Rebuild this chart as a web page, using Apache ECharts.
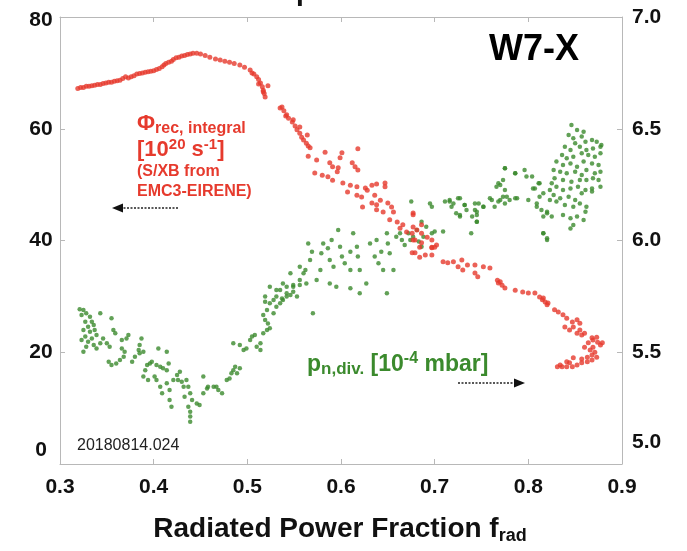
<!DOCTYPE html>
<html>
<head>
<meta charset="utf-8">
<script src="https://cdn.jsdelivr.net/npm/echarts@6/dist/echarts.min.js"></script>
<style>
html, body { margin: 0; padding: 0; background: #fff; }
#chart { width: 687px; height: 551px; }
</style>
</head>
<body>
<div id="chart"></div>
<script>
// Integral recycling flux (left axis, 10^20 s^-1) vs. radiated power fraction
const recycling = [
  [0.319,67.2],[0.322,67.4],[0.325,67.4],[0.328,67.6],[0.331,67.6],[0.334,67.7],[0.337,67.8],[0.340,67.9],
  [0.343,67.9],[0.346,68.1],[0.349,68.2],[0.352,68.3],[0.355,68.3],[0.358,68.5],[0.361,68.6],[0.364,68.7],
  [0.367,69.0],[0.370,69.3],[0.373,69.1],[0.376,69.3],[0.379,69.5],[0.382,69.8],[0.385,69.9],[0.388,70.0],
  [0.391,70.1],[0.394,70.2],[0.397,70.3],[0.400,70.4],[0.403,70.6],[0.406,70.8],[0.409,71.1],[0.411,71.4],
  [0.413,71.7],[0.416,71.9],[0.419,72.1],[0.421,72.4],[0.424,72.7],[0.427,72.8],[0.430,73.0],[0.433,73.1],
  [0.436,73.3],[0.439,73.4],[0.442,73.5],[0.446,73.5],[0.450,73.4],[0.455,73.1],[0.460,72.8],[0.466,72.5],
  [0.471,72.3],[0.476,72.1],[0.481,71.9],[0.486,71.7],[0.492,71.4],[0.497,71.0],[0.503,70.5],[0.505,70.0],
  [0.507,69.8],[0.510,69.3],[0.512,68.8],[0.512,68.0],[0.514,68.2],[0.516,67.5],[0.517,66.9],[0.522,67.7],
  [0.517,66.6],[0.518,66.3],[0.519,65.7],
  [0.535,63.7],[0.537,63.9],[0.539,63.2],[0.541,62.3],[0.542,62.5],[0.544,61.9],[0.548,61.2],[0.549,61.6],
  [0.551,60.5],[0.553,59.8],[0.556,60.3],[0.556,59.2],[0.558,58.5],[0.560,58.0],[0.563,57.4],[0.564,58.9],
  [0.565,56.9],[0.567,56.6],
  [0.565,55.1],[0.574,54.4],[0.583,55.8],[0.588,53.9],[0.591,53.2],[0.597,53.0],[0.599,54.8],[0.601,55.7],
  [0.612,53.9],[0.615,53.2],[0.618,52.6],[0.618,56.4],[0.572,52.1],[0.580,51.7],[0.586,51.4],[0.591,50.8],
  [0.596,52.3],[0.602,50.3],[0.610,49.9],[0.617,49.6],[0.626,49.4],[0.633,49.9],[0.638,50.1],[0.647,50.3],
  [0.647,49.6],[0.607,48.7],[0.617,48.1],[0.622,47.8],[0.628,49.0],[0.636,48.1],[0.642,47.2],[0.633,46.7],
  [0.638,46.4],[0.623,46.0],[0.638,45.5],[0.645,45.1],[0.650,46.7],[0.654,46.0],[0.656,45.1],[0.652,43.7],
  [0.660,43.3],[0.666,42.8],[0.677,44.9],[0.677,42.4],[0.681,41.9],[0.686,41.3],[0.692,40.6],[0.697,40.1],
  [0.679,40.1],[0.686,39.6],[0.697,38.7],[0.697,37.4],[0.684,37.0],[0.676,37.8],[0.702,39.2],[0.663,42.2],
  [0.670,41.5],[0.677,44.6],[0.677,40.1],[0.684,38.8],[0.679,37.8],[0.690,37.4],[0.697,38.8],[0.700,38.8],
  [0.686,42.8],[0.676,41.3],[0.709,36.2],[0.714,36.0],[0.720,36.2],[0.725,35.3],[0.729,36.5],[0.730,34.7],
  [0.735,35.6],[0.743,35.6],[0.743,34.2],[0.746,33.5],[0.752,35.3],[0.759,35.1],[0.767,32.9],[0.768,32.4],
  [0.772,32.0],[0.775,31.5],[0.770,32.6],[0.786,31.1],[0.794,30.8],[0.800,30.6],[0.807,30.6],[0.812,29.9],
  [0.815,29.4],[0.818,29.0],[0.820,28.5],[0.816,29.7],[0.821,28.8],[0.828,27.6],[0.832,27.2],[0.837,26.7],
  [0.841,26.1],[0.847,25.4],[0.852,25.8],[0.855,25.2],[0.839,24.5],[0.844,24.0],[0.852,23.4],[0.857,23.1],
  [0.848,24.5],[0.855,24.0],[0.860,23.4],[0.869,22.2],[0.874,21.8],[0.877,21.3],[0.869,20.9],[0.866,20.4],
  [0.871,20.0],[0.868,19.5],[0.863,19.1],[0.873,19.1],[0.868,18.6],[0.863,18.3],[0.857,18.1],[0.852,17.7],
  [0.847,17.4],[0.841,17.4],[0.836,17.4],[0.831,17.4],[0.848,19.0],[0.857,18.8],[0.844,18.1],[0.834,17.7],
  [0.841,18.3],[0.860,20.9],[0.864,21.7],[0.873,22.7],[0.879,21.7],[0.868,22.6]
];

// Neutral divertor pressure (right axis, 10^-4 mbar) vs. radiated power fraction
const pressure = [
  [0.321,5.692],[0.325,5.689],[0.323,5.667],[0.328,5.674],[0.332,5.659],[0.327,5.637],[0.334,5.637],[0.330,5.614],
  [0.336,5.622],[0.325,5.599],[0.332,5.592],[0.337,5.599],[0.327,5.570],[0.334,5.562],[0.339,5.577],[0.343,5.674],
  [0.323,5.555],[0.330,5.547],[0.336,5.532],[0.328,5.525],[0.339,5.517],[0.325,5.502],[0.343,5.540],[0.346,5.562],
  [0.350,5.540],[0.355,5.652],[0.357,5.599],[0.359,5.585],[0.353,5.525],[0.352,5.458],[0.355,5.443],[0.360,5.450],
  [0.364,5.465],[0.368,5.480],[0.366,5.517],[0.369,5.502],[0.371,5.562],[0.366,5.555],[0.373,5.577],[0.377,5.458],
  [0.380,5.480],[0.385,5.495],[0.387,5.562],[0.384,5.510],[0.389,5.502],[0.385,5.532],[0.393,5.443],[0.391,5.420],
  [0.396,5.450],[0.398,5.458],[0.403,5.443],[0.407,5.435],[0.410,5.428],[0.414,5.420],[0.405,5.517],[0.414,5.502],
  [0.416,5.450],[0.389,5.391],[0.394,5.376],[0.401,5.391],[0.403,5.376],[0.407,5.346],[0.409,5.316],[0.414,5.361],
  [0.417,5.331],[0.421,5.376],[0.425,5.398],[0.428,5.413],[0.426,5.376],[0.430,5.368],[0.432,5.346],[0.435,5.376],
  [0.437,5.346],[0.439,5.316],[0.433,5.301],[0.417,5.286],[0.419,5.256],[0.437,5.256],[0.439,5.234],[0.439,5.212],
  [0.439,5.189],[0.441,5.286],[0.446,5.271],[0.449,5.264],[0.453,5.391],[0.453,5.316],[0.457,5.338],[0.458,5.346],
  [0.464,5.346],[0.467,5.346],[0.469,5.331],[0.473,5.316],[0.478,5.376],[0.481,5.383],[0.483,5.406],[0.485,5.420],
  [0.487,5.435],[0.489,5.406],[0.492,5.428],[0.485,5.540],[0.492,5.532],[0.496,5.510],[0.499,5.517],[0.503,5.555],
  [0.505,5.570],[0.508,5.577],[0.510,5.525],[0.514,5.540],[0.514,5.510],[0.517,5.585],[0.521,5.599],[0.524,5.607],
  [0.522,5.629],[0.519,5.644],[0.517,5.667],[0.521,5.689],[0.528,5.674],[0.531,5.704],[0.535,5.719],[0.538,5.734],
  [0.542,5.749],[0.546,5.756],[0.549,5.771],[0.556,5.801],[0.563,5.808],[0.570,5.674],[0.535,5.778],[0.542,5.793],
  [0.549,5.801],[0.528,5.734],[0.519,5.726],[0.524,5.719],
  [0.519,5.749],[0.531,5.779],[0.538,5.808],[0.542,5.764],[0.537,5.741],[0.549,5.793],[0.553,5.749],[0.556,5.823],
  [0.560,5.853],[0.556,5.883],[0.562,5.868],[0.565,5.987],[0.569,5.950],[0.567,5.913],[0.574,5.823],[0.578,5.868],
  [0.579,5.943],[0.581,5.987],[0.586,5.965],[0.590,6.002],[0.588,5.913],[0.592,5.883],[0.595,5.793],[0.597,6.047],
  [0.599,5.972],[0.601,5.928],[0.604,5.898],[0.610,5.950],[0.610,5.868],[0.613,6.032],[0.617,5.972],[0.618,5.928],
  [0.620,5.868],[0.627,5.808],[0.631,5.987],[0.636,5.928],[0.638,6.002],[0.640,5.898],[0.643,5.950],[0.645,5.868],
  [0.649,6.032],[0.650,5.987],[0.652,5.943],[0.656,5.868],[0.659,6.017],[0.663,6.032],[0.665,6.002],[0.668,5.980],
  [0.672,6.032],[0.674,6.002],[0.677,6.017],[0.681,6.047],[0.683,5.995],[0.686,5.972],[0.688,6.017],[0.691,6.062],
  [0.697,6.032],[0.700,6.040],[0.686,6.084],[0.695,6.166],[0.675,6.174],[0.697,6.151],[0.709,6.040],[0.716,6.174],
  [0.720,6.166],[0.723,6.122],[0.727,6.189],[0.732,6.159],[0.727,6.107],[0.739,6.032],[0.743,6.166],[0.745,6.129],
  [0.745,6.084],[0.752,6.151],[0.759,6.189],[0.766,6.241],[0.768,6.256],[0.770,6.181],[0.773,6.196],[0.775,6.166],
  [0.775,6.323],[0.786,6.301],[0.788,6.189],[0.798,6.286],[0.805,6.233],[0.809,6.166],[0.812,6.256],[0.816,6.211],
  [0.820,6.122],[0.816,6.032],[0.820,6.002],[0.610,5.786],[0.620,5.764],[0.649,5.764],[0.588,5.808],[0.546,5.853],
  [0.531,5.749],[0.524,5.793],
  [0.846,6.517],[0.852,6.494],[0.859,6.487],[0.843,6.472],[0.848,6.457],[0.857,6.465],[0.861,6.442],[0.868,6.450],
  [0.873,6.442],[0.878,6.427],[0.839,6.420],[0.845,6.405],[0.850,6.435],[0.855,6.420],[0.862,6.405],[0.869,6.412],
  [0.877,6.420],[0.836,6.383],[0.841,6.368],[0.848,6.375],[0.857,6.390],[0.864,6.383],[0.871,6.375],[0.877,6.390],
  [0.830,6.353],[0.837,6.338],[0.845,6.345],[0.852,6.330],[0.859,6.353],[0.868,6.345],[0.875,6.338],[0.827,6.315],
  [0.834,6.308],[0.841,6.301],[0.850,6.308],[0.857,6.293],[0.862,6.315],[0.871,6.301],[0.877,6.308],[0.828,6.278],
  [0.837,6.271],[0.846,6.263],[0.855,6.271],[0.862,6.271],[0.869,6.278],[0.875,6.271],[0.830,6.241],[0.837,6.226],
  [0.845,6.233],[0.853,6.241],[0.861,6.226],[0.868,6.233],[0.877,6.241],[0.827,6.204],[0.834,6.189],[0.843,6.196],
  [0.850,6.181],[0.857,6.211],[0.868,6.219],[0.839,6.159],[0.848,6.151],[0.855,6.166],[0.862,6.151],[0.837,6.114],
  [0.845,6.099],[0.852,6.107],[0.859,6.092],[0.848,6.069],[0.845,6.054],[0.861,6.129],[0.830,6.174],[0.825,6.256],
  [0.823,6.226],[0.796,6.315],[0.804,6.286],[0.807,6.233],[0.811,6.256],[0.812,6.196],[0.814,6.137],[0.816,6.107],
  [0.820,6.129],[0.816,6.032],[0.820,6.010],[0.800,6.181],[0.809,6.151],[0.823,6.181],[0.825,6.107],[0.711,6.174],
  [0.716,6.181],[0.718,6.151],[0.725,6.189],[0.727,6.114],[0.732,6.159],[0.734,6.137],[0.740,6.107],[0.743,6.137],
  [0.745,6.114],[0.745,6.084],[0.747,6.166],[0.752,6.151],[0.761,6.181],[0.764,6.151],[0.768,6.174],[0.770,6.248],
  [0.773,6.271],[0.775,6.323],[0.777,6.196],[0.780,6.181],[0.786,6.301],[0.786,6.189],[0.775,6.226]
];

// Axis ranges and tick spacing
const xRange = [0.3, 0.9, 0.1];
const fluxRange = [0, 80, 20];
const pressRange = [5.0, 7.0, 0.5];

const FONT = '"Liberation Sans", Arial, Helvetica, sans-serif';
const RED = '#e63a2d';
const GREEN = '#3b8a2d';
const INK = '#111';
const FRAME = '#b8b8b8';

const tickFont = { fontFamily: FONT, fontWeight: 'bold', fontSize: 21, color: INK };

const chart = echarts.init(document.getElementById('chart'), null, { renderer: 'canvas' });

const frameAxis = {
  axisLine: { show: true, lineStyle: { color: FRAME, width: 1 } },
  axisTick: { show: true, inside: true, length: 5, lineStyle: { color: FRAME } },
  splitLine: { show: false }
};

chart.setOption({
  animation: false,
  backgroundColor: '#fff',
  grid: { left: 60, right: 65, top: 17, bottom: 87, show: false },
  xAxis: [
    Object.assign({
      type: 'value', min: xRange[0], max: xRange[1], interval: xRange[2],
      axisLabel: Object.assign({ margin: 13, formatter: v => v.toFixed(1) }, tickFont)
    }, frameAxis),
    Object.assign({
      type: 'value', position: 'top', min: xRange[0], max: xRange[1], interval: xRange[2],
      axisLabel: { show: false }
    }, frameAxis)
  ],
  yAxis: [
    Object.assign({
      type: 'value', position: 'left', min: fluxRange[0], max: fluxRange[1], interval: fluxRange[2],
      axisLabel: {
        align: 'center', margin: 19,
        formatter: v => v === 0 ? '{lo|0}' : (v === 80 ? '{hi|80}' : '{n|' + v + '}'),
        rich: {
          n: Object.assign({}, tickFont),
          lo: Object.assign({ padding: [0, 0, 28, 0] }, tickFont),
          hi: Object.assign({ padding: [6, 0, 0, 0] }, tickFont)
        }
      }
    }, frameAxis),
    Object.assign({
      type: 'value', position: 'right', min: pressRange[0], max: pressRange[1], interval: pressRange[2],
      axisLabel: {
        align: 'left', margin: 10,
        formatter: v => v === 5 ? '{lo|' + v.toFixed(1) + '}' : '{n|' + v.toFixed(1) + '}',
        rich: {
          n: Object.assign({}, tickFont),
          lo: Object.assign({ padding: [0, 0, 44, 0] }, tickFont)
        }
      }
    }, frameAxis)
  ],
  series: [
    {
      name: 'p_n,div', type: 'scatter', xAxisIndex: 0, yAxisIndex: 1,
      data: pressure, symbol: 'circle', symbolSize: 4.5,
      itemStyle: { color: GREEN }, silent: true
    },
    {
      name: 'Phi_rec', type: 'scatter', xAxisIndex: 0, yAxisIndex: 0,
      data: recycling, symbol: 'circle', symbolSize: 5,
      itemStyle: { color: RED }, silent: true
    }
  ],
  graphic: [
    // heading line, mostly above the page edge
    { type: 'text', x: 296, y: 6, style: { text: 'p', font: 'bold 28px ' + FONT, fill: '#111', verticalAlign: 'bottom' } },
    { type: 'text', x: 489, y: 50, style: { text: 'W7-X', font: 'bold 36px ' + FONT, fill: '#000', verticalAlign: 'middle' } },
    // flux legend text
    { type: 'text', x: 137, y: 111, style: {
      text: '{a|Φ}{b|rec, integral}',
      rich: {
        a: { font: 'bold 22px ' + FONT, fill: RED, lineHeight: 26, verticalAlign: 'middle' },
        b: { font: 'bold 16px ' + FONT, fill: RED, lineHeight: 16, verticalAlign: 'bottom' }
      }, verticalAlign: 'top' } },
    { type: 'text', x: 137, y: 137, style: {
      text: '{a|[10}{u|20}{a| s}{u|-1}{a|]}',
      rich: {
        a: { font: 'bold 22px ' + FONT, fill: RED, lineHeight: 26, verticalAlign: 'middle' },
        u: { font: 'bold 15px ' + FONT, fill: RED, lineHeight: 18, verticalAlign: 'top' }
      }, verticalAlign: 'top' } },
    { type: 'text', x: 137, y: 172, style: { text: '(S/XB from', font: 'bold 16px ' + FONT, fill: RED, verticalAlign: 'middle' } },
    { type: 'text', x: 137, y: 192, style: { text: 'EMC3-EIRENE)', font: 'bold 16px ' + FONT, fill: RED, verticalAlign: 'middle' } },
    // arrow pointing to the left axis
    { type: 'line', shape: { x1: 120, y1: 208, x2: 178, y2: 208 }, style: { stroke: '#222', lineWidth: 1.5, lineDash: [2, 1.5] } },
    { type: 'polygon', shape: { points: [[112, 208], [123, 203.5], [123, 212.5]] }, style: { fill: '#111' } },
    // pressure legend text
    { type: 'text', x: 307, y: 351, style: {
      text: '{a|p}{b|n,div.}{a| [10}{u|-4}{a| mbar]}',
      rich: {
        a: { font: 'bold 23px ' + FONT, fill: GREEN, lineHeight: 27, verticalAlign: 'middle' },
        b: { font: 'bold 17px ' + FONT, fill: GREEN, lineHeight: 19, verticalAlign: 'bottom' },
        u: { font: 'bold 16px ' + FONT, fill: GREEN, lineHeight: 19, verticalAlign: 'top' }
      }, verticalAlign: 'top' } },
    // arrow pointing to the right axis
    { type: 'line', shape: { x1: 458, y1: 383, x2: 516, y2: 383 }, style: { stroke: '#222', lineWidth: 1.5, lineDash: [2, 1.5] } },
    { type: 'polygon', shape: { points: [[525, 383], [514, 378.5], [514, 387.5]] }, style: { fill: '#111' } },
    // shot number
    { type: 'text', x: 77, y: 446, style: { text: '20180814.024', font: '16px ' + FONT, fill: '#222', verticalAlign: 'middle' } },
    // x axis title
    { type: 'text', x: 340, y: 513, style: {
      text: '{a|Radiated Power Fraction f}{b|rad}',
      rich: {
        a: { font: 'bold 28px ' + FONT, fill: INK, lineHeight: 32, verticalAlign: 'middle' },
        b: { font: 'bold 18px ' + FONT, fill: INK, lineHeight: 20, verticalAlign: 'bottom' }
      }, align: 'center', verticalAlign: 'top' } }
  ]
});
</script>
</body>
</html>
